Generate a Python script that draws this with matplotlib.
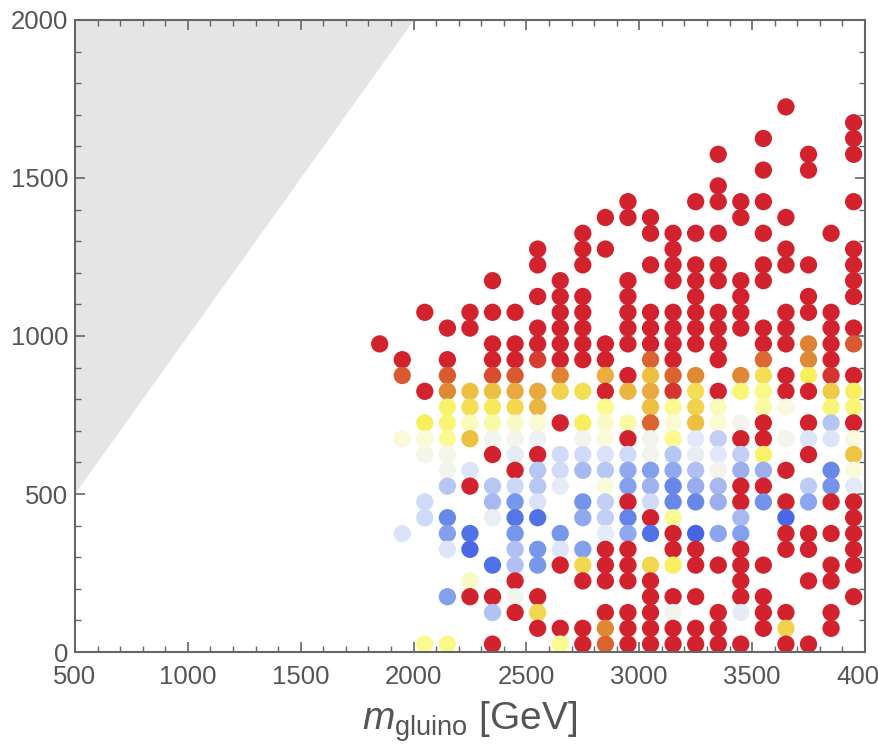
import numpy as np
import matplotlib
matplotlib.use("Agg")
from matplotlib import pyplot as plt
from matplotlib.colors import LinearSegmentedColormap

# gluino mass columns and, for each column, the LSP masses and colour level (0 = blue, 1 = red)
gluino_cols = [1850, 1950, 2050, 2150, 2250, 2350, 2450, 2550, 2650, 2750, 2850,
               2950, 3050, 3150, 3250, 3350, 3450, 3550, 3650, 3750, 3850, 3950]

lsp = [
    [975],
    [925, 875, 675, 375],
    [1075, 825, 725, 675, 625, 475, 425, 25],
    [1025, 925, 875, 825, 775, 725, 675, 625, 575, 525, 425, 375, 325, 175, 25],
    [1075, 1025, 825, 775, 725, 675, 575, 525, 375, 325, 225, 175],
    [1175, 1075, 975, 925, 875, 825, 775, 725, 675, 625, 525, 475, 425, 275, 175, 125, 25],
    [1075, 975, 925, 875, 825, 775, 725, 675, 625, 575, 525, 475, 425, 375, 325, 275, 225, 175, 125],
    [1275, 1225, 1125, 1025, 975, 925, 825, 775, 725, 675, 625, 575, 525, 475, 425, 325, 275, 175, 125, 75],
    [1175, 1125, 1075, 1025, 975, 925, 875, 825, 725, 625, 575, 525, 375, 325, 275, 75, 25],
    [1325, 1275, 1225, 1125, 1075, 1025, 975, 925, 825, 725, 675, 625, 575, 475, 425, 325, 275, 225, 75, 25],
    [1375, 1275, 975, 925, 875, 825, 775, 725, 675, 625, 575, 525, 475, 425, 375, 325, 275, 225, 125, 75, 25],
    [1425, 1375, 1175, 1125, 1075, 1025, 975, 875, 825, 725, 675, 625, 575, 525, 475, 425, 375, 325, 275, 225, 125, 75, 25],
    [1375, 1325, 1225, 1075, 1025, 975, 925, 875, 825, 775, 725, 675, 625, 575, 525, 475, 425, 375, 275, 225, 175, 125, 75, 25],
    [1325, 1275, 1225, 1175, 1075, 1025, 975, 925, 875, 825, 775, 725, 675, 625, 575, 525, 475, 425, 375, 325, 275, 175, 125, 75, 25],
    [1425, 1325, 1225, 1175, 1125, 1075, 1025, 975, 875, 825, 775, 725, 675, 625, 575, 525, 475, 375, 325, 275, 175, 75, 25],
    [1575, 1475, 1425, 1325, 1225, 1175, 1075, 1025, 975, 925, 825, 775, 725, 675, 625, 575, 525, 475, 375, 275, 125, 75, 25],
    [1425, 1375, 1175, 1125, 1075, 1025, 875, 825, 725, 675, 625, 575, 525, 475, 425, 375, 325, 275, 225, 175, 125, 25],
    [1625, 1525, 1425, 1325, 1225, 1175, 1025, 975, 925, 875, 825, 775, 725, 675, 625, 575, 525, 475, 275, 175, 125, 75],
    [1725, 1375, 1275, 1225, 1075, 1025, 975, 875, 825, 775, 675, 575, 475, 425, 375, 325, 125, 75, 25],
    [1575, 1525, 1225, 1125, 1075, 975, 925, 875, 825, 725, 675, 625, 525, 475, 375, 325, 225, 25],
    [1325, 1075, 1025, 975, 925, 875, 825, 775, 725, 675, 575, 525, 475, 375, 275, 225, 125, 75],
    [1675, 1625, 1575, 1425, 1275, 1225, 1175, 1125, 1025, 975, 875, 825, 775, 725, 675, 625, 575, 525, 475, 425, 375, 325, 275, 175],
]

level = [
    [1],
    [1, .92, .56, .40],
    [1, 1, .68, .57, .52, .37, .37, .63],
    [1, 1, .92, .85, .67, .66, .63, .52, .50, .32, .10, .17, .41, .17, .64],
    [1, 1, .76, .71, .59, .76, .41, 1, .05, .03, .58, 1],
    [1, 1, 1, 1, .94, .76, .69, .61, .50, 1, .32, .26, .46, .05, 1, .30, 1],
    [1, 1, 1, .92, .80, .72, .58, .51, .44, 1, .36, .14, .06, .14, .29, .29, 1, .50, 1],
    [1, 1, 1, 1, 1, .96, .80, .78, .57, .48, 1, .32, .32, .40, .05, .14, .14, 1, .72, 1],
    [1, 1, 1, 1, 1, 1, .86, .73, 1, .37, .37, .44, .14, .41, 1, 1, .63],
    [1, 1, 1, 1, 1, 1, 1, 1, .71, .68, .50, .37, .26, .13, .20, .17, .72, 1, 1, 1],
    [1, 1, 1, 1, .79, 1, .63, .58, .56, .40, .32, .56, .34, .34, .44, 1, 1, 1, 1, .85, .91],
    [1, 1, 1, 1, 1, 1, 1, 1, .78, .61, 1, .37, .20, .17, 1, .09, .20, 1, 1, 1, 1, 1, 1],
    [1, 1, 1, 1, 1, 1, .91, .76, .80, .76, .91, .50, .50, .17, .24, .37, 1, .05, .72, 1, 1, 1, 1, 1],
    [1, 1, 1, 1, 1, 1, 1, 1, .91, .97, .63, .57, .63, .32, .20, .10, .10, .63, 1, 1, .68, 1, .50, 1, 1],
    [1, 1, 1, 1, 1, 1, 1, 1, .85, .71, .73, .76, .42, .45, .29, .22, .10, .02, 1, 1, 1, 1, 1],
    [1, 1, 1, 1, 1, 1, 1, 1, 1, 1, 1, .59, .57, .34, .42, .50, .26, .23, .19, 1, 1, 1, 1],
    [1, 1, 1, 1, 1, 1, .85, .66, .50, 1, .34, .23, 1, 1, .26, .17, 1, 1, 1, 1, .44, 1],
    [1, 1, 1, 1, 1, 1, 1, 1, .90, .71, .64, .61, 1, 1, .67, .23, 1, .13, 1, 1, 1, 1],
    [1, 1, 1, 1, 1, 1, 1, 1, 1, .55, .50, 1, 1, .03, 1, 1, 1, .73, 1],
    [1, 1, 1, 1, 1, .86, .85, .68, 1, 1, .41, 1, .33, .19, 1, 1, 1, 1],
    [1, 1, 1, 1, 1, .97, .74, .66, .31, .41, .10, .13, 1, 1, 1, 1, 1, 1],
    [1, 1, 1, 1, 1, 1, 1, 1, 1, .92, 1, .68, .66, 1, .55, .75, .56, .43, 1, 1, 1, 1, 1, 1],
]

# excluded (shaded) region: LSP heavier than gluino
shade_x = [500, 500, 2000]
shade_y = [500, 2000, 2000]

plt.rcParams['font.family'] = ['Liberation Sans', 'DejaVu Sans']
plt.rcParams['mathtext.fontset'] = 'custom'
plt.rcParams['mathtext.rm'] = 'Liberation Sans'
plt.rcParams['mathtext.it'] = 'Liberation Sans:italic'

stops = [(0.00, '#3c5ce6'), (0.08, '#6080e8'), (0.14, '#7898ec'), (0.20, '#90a8ee'),
         (0.26, '#a8b8f0'), (0.32, '#b8c8f4'), (0.37, '#d0dcf8'), (0.43, '#e4eafa'),
         (0.50, '#f2f4ee'), (0.56, '#fafadc'), (0.60, '#fafab0'), (0.64, '#fafa88'),
         (0.68, '#f8f060'), (0.72, '#f2d850'), (0.76, '#eec040'), (0.80, '#eaa840'),
         (0.85, '#e08a35'), (0.90, '#dc6a30'), (0.95, '#d84530'), (1.00, '#d2222d')]
cmap = LinearSegmentedColormap.from_list('temp', stops)

x = np.repeat(gluino_cols, [len(c) for c in lsp])
y = np.concatenate([np.array(c, dtype=float) for c in lsp])
z = np.concatenate([np.array(c, dtype=float) for c in level])

fig = plt.figure(figsize=(8.79, 7.51), dpi=100)
ax = fig.add_axes([0.0853, 0.1318, 0.8987, 0.8416])

ax.fill(shade_x, shade_y, color='#e5e5e5', lw=0, zorder=1)
ax.scatter(x, y, c=z, cmap=cmap, vmin=0, vmax=1, s=155, linewidths=0, zorder=2)

ax.set_xlim(500, 4000)
ax.set_ylim(0, 2000)
ax.set_xticks(np.arange(500, 4001, 500))
ax.set_xticks(np.arange(500, 4001, 100), minor=True)
ax.set_yticks(np.arange(0, 2001, 500))
ax.set_yticks(np.arange(0, 2001, 100), minor=True)

for s in ax.spines.values():
    s.set_color('#666666')
    s.set_linewidth(1.5)
ax.tick_params(which='both', direction='in', top=True, right=True, color='#666666',
               labelcolor='#555555', labelsize=18.5)
ax.tick_params(which='major', length=7, width=1.2)
ax.tick_params(axis='x', which='major', pad=9)
ax.tick_params(axis='y', which='major', pad=5)
ax.tick_params(which='minor', length=4, width=1)

ax.set_xlabel(r'$m_{\mathrm{gluino}}$ [GeV]', fontsize=28, color='#555555', labelpad=8)

plt.savefig('out.png', dpi=100)
